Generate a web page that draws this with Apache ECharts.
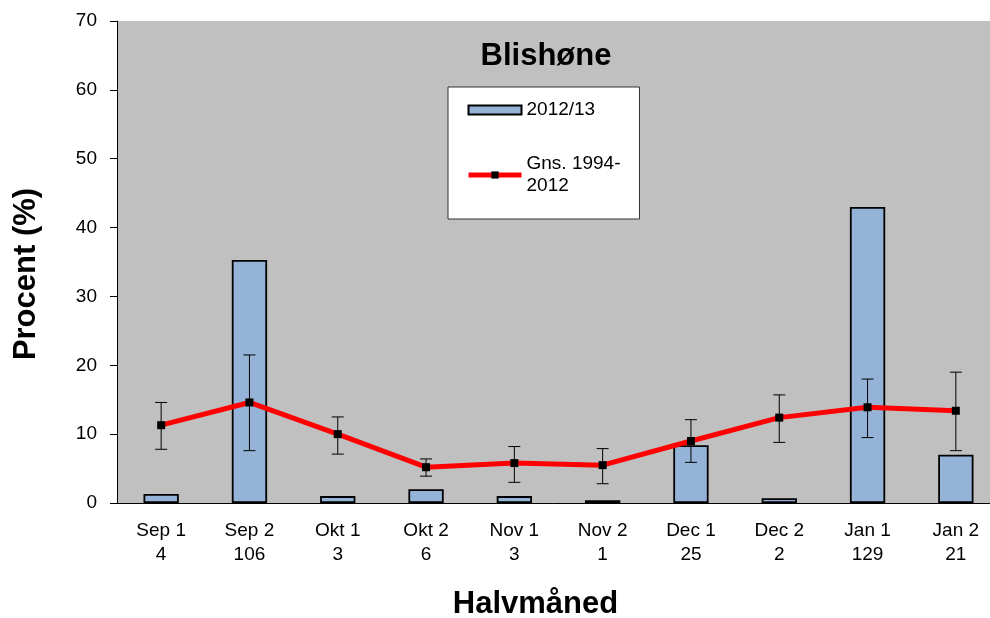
<!DOCTYPE html>
<html>
<head>
<meta charset="utf-8">
<script src="https://cdn.jsdelivr.net/npm/echarts@6/dist/echarts.min.js"></script>
<style>
  html, body { margin: 0; padding: 0; background: #fff; }
  #chart { width: 990px; height: 618px; }
</style>
</head>
<body>
<div id="chart"></div>
<script>
// half-month periods and number of birds counted
var periods = ["Sep 1", "Sep 2", "Okt 1", "Okt 2", "Nov 1", "Nov 2", "Dec 1", "Dec 2", "Jan 1", "Jan 2"];
var counts = [4, 106, 3, 6, 3, 1, 25, 2, 129, 21];

// 2012/13 season, percent
var season = [1.3, 35.3, 1.0, 2.0, 1.0, 0.4, 8.4, 0.7, 43.0, 7.0];

// average 1994-2012 with error range
var avg = [11.3, 14.6, 10.0, 5.2, 5.8, 5.5, 9.0, 12.4, 13.9, 13.4];
var errLow = [7.8, 7.6, 7.1, 3.9, 3.0, 2.8, 5.9, 8.8, 9.5, 7.6];
var errHigh = [14.6, 21.5, 12.5, 6.4, 8.2, 7.9, 12.1, 15.7, 18.0, 19.0];

var yTicks = { min: 0, max: 70, interval: 10 };

var font = "Liberation Sans, Arial, sans-serif";

var chart = echarts.init(document.getElementById("chart"));

var categories = periods.map(function (p, i) {
  return p + "\n" + counts[i];
});

var errData = errLow.map(function (lo, i) {
  return [i, lo, errHigh[i]];
});

chart.setOption({
  animation: false,
  textStyle: { fontFamily: font },
  title: {
    text: "Blishøne",
    left: 541,
    top: 36,
    textAlign: "center",
    textStyle: { fontFamily: font, fontSize: 31, fontWeight: "bold", color: "#000" },
  },
  legend: {
    left: 448,
    top: 87,
    orient: "vertical",
    backgroundColor: "#fff",
    borderColor: "#333",
    borderWidth: 1,
    padding: [12, 19, 11, 18],
    itemGap: 21,
    itemWidth: 53,
    itemHeight: 9,
    textStyle: { fontFamily: font, fontSize: 19, color: "#000", lineHeight: 22 },
    formatter: function (name) {
      return name === "Gns. 1994-2012" ? "Gns. 1994-\n2012" : name;
    },
    data: [
      { name: "2012/13", icon: "rect" },
      {
        name: "Gns. 1994-2012",
        textStyle: { padding: [22, 0, 0, 0] },
        lineStyle: { width: 5, color: "#FF0000" },
      },
    ],
  },
  grid: {
    left: 117,
    top: 21,
    bottom: 115,
    right: -10,
    outerBoundsMode: "none",
    show: true,
    backgroundColor: "#C0C0C0",
    borderWidth: 0,
  },
  xAxis: {
    type: "category",
    data: categories,
    name: "Halvmåned",
    nameLocation: "middle",
    nameGap: 86,
    nameTextStyle: {
      fontFamily: font,
      fontSize: 31,
      fontWeight: "bold",
      color: "#000",
      padding: [0, 46, 0, 0],
    },
    axisLine: { lineStyle: { color: "#000", width: 1 } },
    axisTick: { length: 6, lineStyle: { color: "#000" } },
    axisLabel: { fontFamily: font, fontSize: 19, color: "#000", lineHeight: 24, margin: 16 },
  },
  yAxis: {
    type: "value",
    min: yTicks.min,
    max: yTicks.max,
    interval: yTicks.interval,
    name: "Procent (%)",
    nameLocation: "middle",
    nameGap: 75,
    nameTextStyle: {
      fontFamily: font,
      fontSize: 31,
      fontWeight: "bold",
      color: "#000",
      padding: [0, 24, 0, 0],
    },
    axisLine: { show: true, lineStyle: { color: "#000", width: 1 } },
    axisTick: { show: true, length: 7, lineStyle: { color: "#000" } },
    axisLabel: { fontFamily: font, fontSize: 19, color: "#000", margin: 20 },
    splitLine: { show: false },
  },
  series: [
    {
      name: "2012/13",
      type: "bar",
      data: season,
      barWidth: "40%",
      itemStyle: { color: "#95B3D7", borderColor: "#000", borderWidth: 1.8 },
      z: 2,
    },
    {
      name: "err",
      type: "custom",
      data: errData,
      z: 3,
      renderItem: function (params, api) {
        var x = api.value(0);
        var lo = api.coord([x, api.value(1)]);
        var hi = api.coord([x, api.value(2)]);
        var w = 6;
        var style = { stroke: "#000", lineWidth: 1 };
        return {
          type: "group",
          children: [
            { type: "line", shape: { x1: lo[0], y1: lo[1], x2: hi[0], y2: hi[1] }, style: style },
            { type: "line", shape: { x1: lo[0] - w, y1: lo[1], x2: lo[0] + w, y2: lo[1] }, style: style },
            { type: "line", shape: { x1: hi[0] - w, y1: hi[1], x2: hi[0] + w, y2: hi[1] }, style: style },
          ],
        };
      },
    },
    {
      name: "Gns. 1994-2012",
      type: "line",
      data: avg,
      symbol: "rect",
      symbolSize: 8,
      itemStyle: { color: "#000" },
      lineStyle: { color: "#FF0000", width: 5 },
      z: 4,
    },
  ],
});
</script>
</body>
</html>
